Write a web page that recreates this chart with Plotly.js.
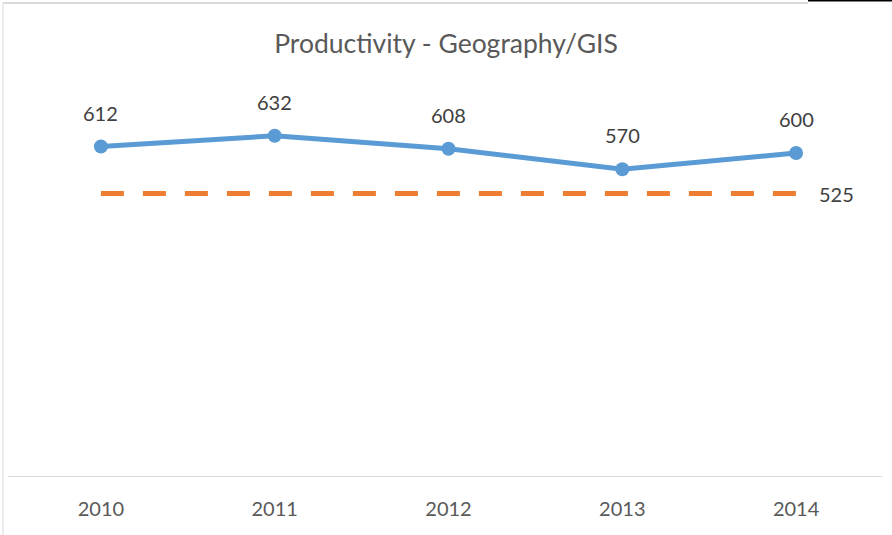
<!DOCTYPE html>
<html>
<head>
<meta charset="utf-8">
<script src="https://cdn.plot.ly/plotly-3.0.1.min.js"></script>
<style>html,body{margin:0;padding:0;background:#fff;}#chart{width:892px;height:535px;}</style>
</head>
<body>
<div id="chart"></div>
<script>
const years = ["2010", "2011", "2012", "2013", "2014"];
const productivity = [612, 632, 608, 570, 600];
const target = [525, 525, 525, 525, 525];
const titleText = "Productivity - Geography/GIS";

const FONT = "Lato, 'Open Sans', sans-serif";

const traces = [
  {
    x: years, y: target, type: "scatter", mode: "lines",
    line: {color: "#ED7D31", width: 5, dash: "23px,19px"},
    hoverinfo: "skip", showlegend: false
  },
  {
    x: years, y: productivity, type: "scatter", mode: "lines+markers",
    line: {color: "#5B9BD5", width: 5},
    marker: {color: "#5B9BD5", size: 14},
    showlegend: false
  }
];

// category positions are indices into the years array
const annotations = productivity.map((v, i) => ({
  x: i, y: v, xref: "x", yref: "y", text: String(v),
  showarrow: false, yshift: 34, font: {family: FONT, size: 20, color: "#404040"}
}));
annotations.push({
  x: years.length - 1, y: target[target.length - 1], xref: "x", yref: "y",
  text: String(target[target.length - 1]), showarrow: false,
  xanchor: "left", xshift: 21, font: {family: FONT, size: 20, color: "#404040"}
});

const layout = {
  width: 892, height: 535,
  margin: {l: 14, r: 9, t: 99, b: 58},
  paper_bgcolor: "#fff", plot_bgcolor: "#fff",
  title: {text: titleText, x: 0.5, xanchor: "center", y: 1 - 44/535, yanchor: "middle",
          font: {family: FONT, size: 26.5, color: "#595959"}},
  xaxis: {
    type: "category", range: [-0.5, 4.5], showgrid: false, zeroline: false,
    showline: false, ticks: "", ticklabelstandoff: 18,
    tickfont: {family: FONT, size: 20, color: "#595959"}
  },
  yaxis: {range: [0, 700], visible: false, showgrid: false, zeroline: false},
  annotations: annotations,
  shapes: [
    {type: "line", xref: "paper", yref: "y", x0: -0.0069, x1: 0.9988, y0: 0, y1: 0,
     line: {color: "#D9D9D9", width: 2}},
    {type: "line", xref: "paper", yref: "paper", x0: -0.0127, x1: -0.0127, y0: -0.16, y1: 1.254,
     line: {color: "#D9D9D9", width: 1}},
    {type: "line", xref: "paper", yref: "paper", x0: -0.0127, x1: 0.9137, y0: 1.254, y1: 1.254,
     line: {color: "#D9D9D9", width: 2}},
    {type: "line", xref: "paper", yref: "paper", x0: 0.9137, x1: 1.0104, y0: 1.2606, y1: 1.2606,
     line: {color: "#000", width: 2}}
  ],
  hovermode: false
};

Plotly.newPlot("chart", traces, layout, {staticPlot: true, displayModeBar: false});
</script>
</body>
</html>
